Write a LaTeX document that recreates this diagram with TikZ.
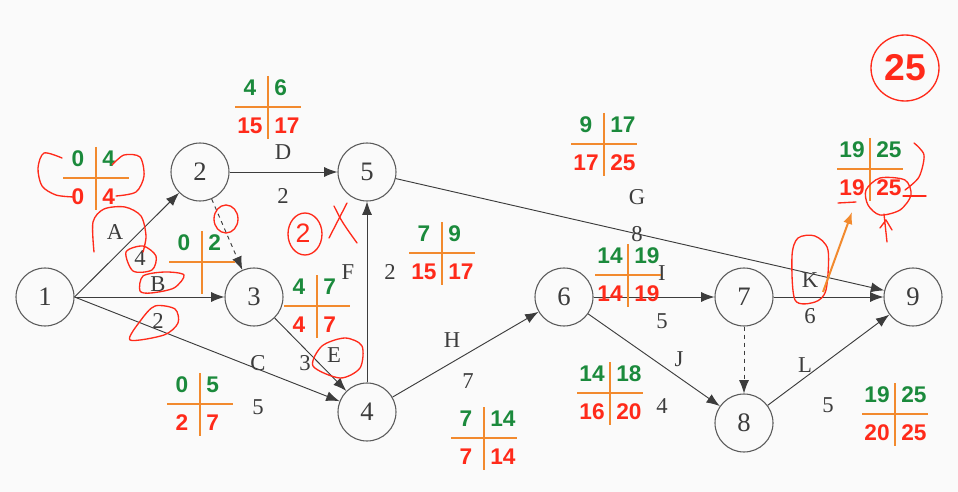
\documentclass[tikz,border=0pt]{standalone}
\usepackage{fontspec}
\setmainfont{Liberation Serif}
\newfontfamily\numfont{Liberation Sans}
\usetikzlibrary{arrows.meta}
\definecolor{paper}{HTML}{FAFAFA}
\definecolor{inkgray}{HTML}{3C3C3C}
\definecolor{esgreen}{HTML}{1B8A3C}
\definecolor{lfred}{HTML}{FF2A1A}
\definecolor{crossorange}{HTML}{F28A2E}
\tikzset{
    event/.style={circle, draw=inkgray!85, line width=0.8pt, minimum size=43.5pt, inner sep=0pt,
        font=\fontsize{20}{20}\selectfont, text=inkgray},
    act/.style={draw=inkgray, line width=0.7pt, -{Latex[length=10pt,width=7.5pt]}},
    lbl/.style={font=\fontsize{17}{17}\selectfont, text=inkgray, inner sep=0pt},
    esnum/.style={font=\numfont\bfseries\fontsize{17}{17}\selectfont, text=esgreen, inner sep=0pt},
    lfnum/.style={font=\numfont\bfseries\fontsize{17}{17}\selectfont, text=lfred, inner sep=0pt},
    scrib/.style={draw=lfred, line width=1pt, line cap=round, line join=round}
}
\begin{document}
\begin{tikzpicture}[x=0.75pt, y=-0.75pt]
    % Page
    \fill[paper] (0,0) rectangle (958,492);
    \useasboundingbox (0,0) rectangle (958,492);
    % Events
    \foreach \n/\x/\y in {1/45/297, 2/200/172, 3/254/297, 4/367/412, 5/367/172,
                          6/564/297, 7/744/297, 8/744/423, 9/913/297}
        \node[event] (n\n) at (\x,\y) {\n};
    % Activities
    \draw[act] (n1.east) -- (n2);
    \draw[act] (n1.east) -- (n3);
    \draw[act] (n1.east) -- (n4);
    \draw[act, dashed] (n2) -- (n3);
    \draw[act] (n2) -- (n5);
    \draw[act] (n3) -- (n4);
    \draw[act] (n4) -- (n5);
    \draw[act] (n4) -- (n6);
    \draw[act] (n5) -- (n9);
    \draw[act] (n6) -- (n7);
    \draw[act] (n6) -- (n8);
    \draw[act, dashed] (n7) -- (n8);
    \draw[act] (n7) -- (n9);
    \draw[act] (n8) -- (n9);
    % Activity names and durations
    \foreach \x/\y/\t [count=\i] in {115/232/A, 140/258/4, 158/284/B, 158/321/2, 258/363/C, 258/407/5,
                                     283/152/D, 283/196/2, 334/355/E, 305/363/3, 348/272/F, 390/272/2,
                                     452/340/H, 468/381/7, 637/197/G, 637/234/8, 662/273/I, 662/321/5,
                                     679/359/J, 662/406/4, 810/280/K, 810/316/6, 805/365/L, 828/405/5}
        \node[lbl] (w\i) at (\x,\y) {\t};
    % Time crosses: ES | EF over LS | LF
    \foreach \cx/\cy/\a/\b/\c/\d [count=\i] in {96/178/0/4/0/4, 268/107/4/6/15/17, 202/262/0/2//,
                                                317/306/4/7/4/7, 200/404/0/5/2/7, 442/253/7/9/15/17,
                                                484/438/7/14/7/14, 604/144/9/17/17/25, 628/275/14/19/14/19,
                                                870/169/19/25/19/25, 610/393/14/18/16/20, 895/414/19/25/20/25} {
        \draw[crossorange, line width=2pt] (\cx-33,\cy) -- (\cx+33,\cy) (\cx,\cy-31) -- (\cx,\cy+32);
        \node[esnum] (t\i-es) at (\cx-18,\cy-19) {\a};
        \node[esnum, anchor=west] (t\i-ef) at (\cx+6,\cy-19) {\b};
        \node[lfnum] (t\i-ls) at (\cx-18,\cy+19) {\c};
        \node[lfnum, anchor=west] (t\i-lf) at (\cx+6,\cy+19) {\d};
    }
    % Total duration
    \node[font=\numfont\bfseries\fontsize{28}{28}\selectfont, text=lfred] (total) at (905,68) {25};
    \draw[scrib] (total.center) ellipse (34 and 33);
    % Pen marks
    \draw[scrib] plot[smooth] coordinates {(62,158) (44,153) (38,168) (42,186) (56,195) (74,197)};
    \draw[scrib] plot[smooth] coordinates {(112,165) (124,155) (140,157) (144,176) (136,192) (116,196)};
    \draw[scrib] plot[smooth] coordinates {(94,252) (93,222) (104,209) (125,207) (141,216) (146,236) (143,252)};
    \draw[scrib] plot[smooth cycle] coordinates {(126,252) (143,246) (156,256) (152,270) (133,271)};
    \draw[scrib] plot[smooth cycle] coordinates {(140,291) (143,276) (165,272) (184,275) (174,288) (151,293)};
    \draw[scrib] plot[smooth cycle] coordinates {(130,340) (141,320) (155,306) (175,309) (178,323) (164,335)};
    \draw[scrib] (226,219) ellipse (12 and 14);
    \draw[scrib] (305,234) ellipse (17 and 21);
    \node[font=\numfont\fontsize{20}{20}\selectfont, text=lfred] (pen2) at (303,233) {2};
    \draw[scrib] (334,206) .. controls (342,222) .. (357,243);
    \draw[scrib] (347,203) -- (329,238);
    \draw[scrib] plot[smooth cycle] coordinates {(313,366) (322,346) (345,338) (362,346) (360,368) (340,378)};
    \draw[scrib] plot[smooth cycle] coordinates {(795,300) (792,256) (798,238) (815,236) (828,250) (826,290) (815,302)};
    \draw[scrib] plot[smooth cycle] coordinates {(866,190) (880,178) (905,180) (911,195) (900,210) (880,215) (868,205)};
    \draw[scrib] (838,203) -- (856,202);
    \draw[scrib] plot[smooth] coordinates {(914,143) (924,155) (919,177) (905,190)};
    \draw[scrib] (903,196) -- (926,196);
    \draw[scrib] (884,214) -- (887,242) (880,228) -- (886,220) -- (892,230);
    % Pointer from K to its cross
    \coordinate (kmark) at (823,292);
    \coordinate (kbox) at (852,212);
    \draw[crossorange, line width=1.5pt, -{Latex[length=9pt,width=7pt]}] (kmark) -- (kbox);
\end{tikzpicture}
\end{document}
